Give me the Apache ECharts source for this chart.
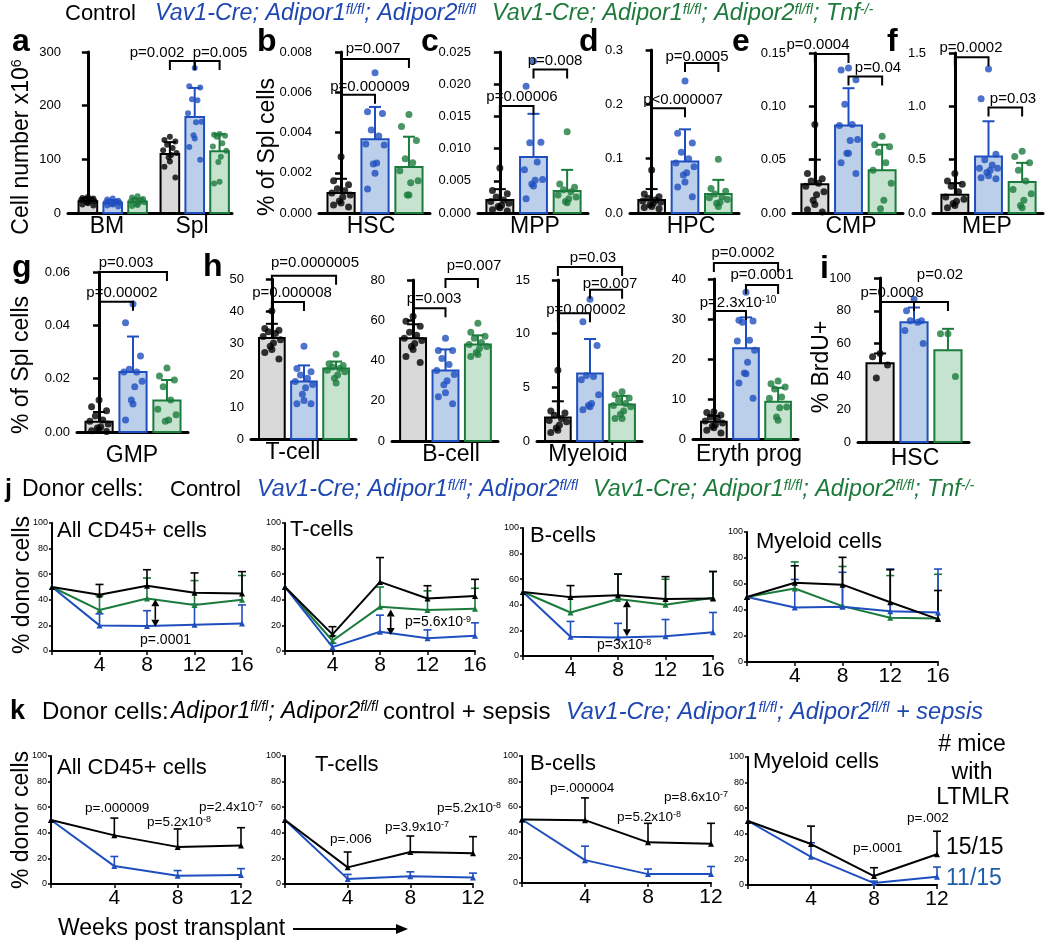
<!DOCTYPE html>
<html>
<head>
<meta charset="utf-8">
<title>Figure</title>
<script src="https://cdn.jsdelivr.net/npm/echarts@6.0.0/dist/echarts.min.js"></script>
<style>
html,body{margin:0;padding:0;background:#fff;}
#chart{width:1050px;height:949px;}
</style>
</head>
<body>
<div id="chart"></div>
<script>
// ================= DATA =================
// groups: Control / Vav1-Cre; Adipor1fl/fl; Adipor2fl/fl / ...; Tnf-/-
// a: cell number x10^6
const aCategories = ['BM', 'Spl'];
const aMean = [22, 19, 21, 110, 179, 115];
const aSD = [6, 5, 6, 22, 54, 32];
const aDots = [
  [30, 28, 27, 26, 25, 24, 22, 21, 20, 18, 16, 14],
  [27, 25, 23, 22, 21, 20, 19, 18, 17, 16, 14, 12],
  [31, 29, 26, 24, 23, 22, 20, 19, 17, 15, 13],
  [142, 136, 133, 127, 121, 117, 112, 108, 104, 96, 86, 66],
  [270, 236, 234, 212, 210, 186, 170, 169, 145, 139, 123, 99],
  [147, 146, 144, 142, 130, 124, 116, 105, 95, 58, 55]
];
// b: HSC % of Spl cells
const hscMean = [0.0010, 0.00367, 0.00229];
const hscSD = [0.0007, 0.0016, 0.0015];
const hscDots = [
  [0.0028, 0.0016, 0.0014, 0.0012, 0.0011, 0.0010, 0.0009, 0.0008, 0.0006, 0.0005, 0.0004, 0.0003],
  [0.00697, 0.00503, 0.00495, 0.00412, 0.00383, 0.00343, 0.00338, 0.00248, 0.00243, 0.00198, 0.00119],
  [0.0049, 0.0043, 0.0036, 0.0027, 0.0025, 0.0021, 0.0016, 0.0015, 0.0009, 0.0009]
];
// c: MPP
const mppMean = [0.0020, 0.0087, 0.0034];
const mppSD = [0.0017, 0.0067, 0.0033];
const mppDots = [
  [0.0070, 0.0035, 0.0030, 0.0025, 0.0020, 0.0018, 0.0015, 0.0012, 0.0010, 0.0008, 0.0005, 0.0003],
  [0.0236, 0.0197, 0.0110, 0.0109, 0.0079, 0.0067, 0.0052, 0.0051, 0.0045, 0.0042, 0.0022],
  [0.0126, 0.0045, 0.0040, 0.0036, 0.0033, 0.0028, 0.0025, 0.0022, 0.0018, 0.0016]
];
// d: HPC
const hpcMean = [0.024, 0.095, 0.035];
const hpcSD = [0.020, 0.059, 0.026];
const hpcDots = [
  [0.079, 0.035, 0.030, 0.027, 0.024, 0.022, 0.020, 0.018, 0.015, 0.012, 0.010, 0.008],
  [0.243, 0.147, 0.129, 0.112, 0.100, 0.092, 0.085, 0.074, 0.070, 0.057, 0.048, 0.030],
  [0.099, 0.045, 0.040, 0.035, 0.030, 0.028, 0.025, 0.020, 0.018, 0.012]
];
// e: CMP
const cmpMean = [0.027, 0.082, 0.040];
const cmpSD = [0.023, 0.035, 0.024];
const cmpDots = [
  [0.083, 0.037, 0.032, 0.030, 0.028, 0.025, 0.020, 0.017, 0.012, 0.008, 0.003, 0.001],
  [0.136, 0.134, 0.125, 0.102, 0.083, 0.082, 0.069, 0.068, 0.056, 0.056, 0.047, 0.037],
  [0.072, 0.064, 0.062, 0.057, 0.047, 0.040, 0.028, 0.012, 0.004]
];
// f: MEP
const mepMean = [0.17, 0.53, 0.29];
const mepSD = [0.11, 0.33, 0.18];
const mepDots = [
  [0.37, 0.30, 0.27, 0.25, 0.20, 0.15, 0.13, 0.11, 0.09, 0.07, 0.05],
  [1.35, 1.07, 0.55, 0.50, 0.45, 0.42, 0.42, 0.40, 0.38, 0.35, 0.33, 0.32],
  [0.58, 0.53, 0.47, 0.40, 0.30, 0.22, 0.18, 0.12, 0.07, 0.05]
];
// g: GMP
const gmpMean = [0.0038, 0.0225, 0.0118];
const gmpSD = [0.0037, 0.0133, 0.0077];
const gmpDots = [
  [0.0120, 0.0095, 0.0080, 0.0060, 0.0045, 0.0040, 0.0030, 0.0020, 0.0015, 0.0010, 0.0005, 0.0002],
  [0.0480, 0.0410, 0.0285, 0.0235, 0.0225, 0.0225, 0.0190, 0.0170, 0.0120, 0.0105, 0.0045],
  [0.0240, 0.0210, 0.0195, 0.0170, 0.0120, 0.0085, 0.0065, 0.0045, 0.0040]
];
// h: T-cell, B-cell, Myeloid, Eryth prog
const tMean = [31.6, 18, 22];
const tSD = [4.4, 5, 2.2];
const tDots = [
  [40, 34.5, 34, 33.5, 33, 32, 31, 30, 29, 28, 27, 25],
  [29, 22, 21, 20, 19, 18, 17, 16, 14, 12, 11, 11],
  [26.5, 23.5, 23, 22.5, 22, 21.5, 21, 20, 19, 17.5]
];
const bMean = [51, 35, 48];
const bSD = [7, 10.5, 4.5];
const bDots = [
  [62, 59.5, 57, 54, 52.5, 51, 50, 48.5, 47, 45.5, 42, 39],
  [51, 45, 45, 41, 38, 35, 33, 30, 28, 24, 22, 18.5],
  [58.5, 54, 52, 51, 49, 48, 47, 46, 44, 43, 42]
];
const myMean = [2.2, 6.3, 3.4];
const mySD = [1.5, 3.2, 0.8];
const myDots = [
  [6.6, 2.8, 2.6, 2.4, 2.1, 1.9, 1.8, 1.5, 1.2, 1.0, 0.8],
  [13.2, 11.1, 8.9, 6.1, 6.0, 5.7, 4.3, 3.5, 3.3, 3.2, 2.9],
  [4.6, 4.3, 4.0, 3.8, 3.5, 3.3, 3.2, 2.8, 2.5, 2.1, 2.1]
];
const eryMean = [4.3, 22.7, 9.3];
const erySD = [1.5, 7.7, 3.5];
const eryDots = [
  [6.8, 6.6, 6.0, 5.5, 5.0, 4.5, 4.0, 3.6, 3.2, 2.8, 2.2, 1.5],
  [36.7, 29.7, 29.5, 29.2, 24.7, 24.5, 22.2, 19.2, 16.5, 16.3, 14.0, 10.2],
  [14.5, 13.8, 13.0, 12.5, 10.5, 10.2, 8.0, 7.8, 5.5, 4.7]
];
// i: % BrdU+ HSC
const brduMean = [48, 73, 56];
const brduSD = [6, 9, 13];
const brduDots = [
  [54, 52, 47, 39],
  [87, 80, 74, 74, 73, 68, 60],
  [66, 66, 40]
];
// j: % donor cells, weeks post transplant
const jWeeks = [0, 4, 8, 12, 16];
const jAllCtrl = [50, 44, 51, 45.5, 45], jAllCtrlSD = [0, 8, 12.5, 15.5, 17];
const jAllVav = [50, 20, 19.5, 20.5, 21.5], jAllVavSD = [0, 9, 12, 16, 14.5];
const jAllTnf = [50, 32, 41, 36, 40], jAllTnfSD = [0, 11, 16, 19, 19];
const jTCtrl = [50, 13, 54, 41, 43], jTCtrlSD = [0, 6, 19, 10, 13];
const jTVav = [50, 3, 15, 10, 12], jTVavSD = [0, 3, 13, 6.5, 10];
const jTTnf = [50, 8, 34.5, 32, 33], jTTnfSD = [0, 4, 15.5, 15, 16];
const jBCtrl = [50, 46, 47.5, 44.5, 45], jBCtrlSD = [0, 9, 16.5, 17.5, 21];
const jBVav = [50, 15, 14.5, 15.5, 18.5], jBVavSD = [0, 12, 11, 13, 15.5];
const jBTnf = [50, 34, 44.5, 40, 45.5], jBTnfSD = [0, 12, 19.5, 20, 20.5];
const jMCtrl = [50, 61, 59.5, 46, 33], jMCtrlSD = [0, 13, 21, 25, 22];
const jMVav = [50, 42, 42.5, 39, 38], jMVavSD = [0, 21.5, 26.5, 32.5, 33.5];
const jMTnf = [50, 56.5, 43, 34, 33.5], jMTnfSD = [0, 20.5, 30.5, 32.5, 34];
// k: sepsis
const kWeeks = [0, 4, 8, 12];
const kAllCtrl = [50, 38, 29, 30], kAllCtrlSD = [0, 13.5, 14, 14];
const kAllVav = [50, 14, 6.5, 7], kAllVavSD = [0, 7.5, 4, 5];
const kTCtrl = [50, 13, 25, 24], kTCtrlSD = [0, 12, 12.5, 13];
const kTVav = [50, 4, 6, 5], kTVavSD = [0, 3.5, 3.5, 3.5];
const kBCtrl = [50, 49.5, 32, 31], kBCtrlSD = [0, 17.5, 15, 16];
const kBVav = [50, 18, 7, 7], kBVavSD = [0, 11, 4, 6];
const kMCtrl = [50, 32, 7, 24], kMCtrlSD = [0, 14, 6.5, 18];
const kMVav = [50, 22, 1.5, 6.5], kMVavSD = [0, 11, 1.5, 7.5];
const ltmlrCounts = ['15/15', '11/15'];

// ================= STYLE / LAYOUT =================
const FONT = '"Liberation Sans", Arial, Helvetica, sans-serif';
const BLK = '#000000', BLU = '#1f4fbf', GRN = '#1b7b3c';
const FILL = ['#d9d9d9', '#bccfea', '#c6e3cf'];
const EDGE = [BLK, BLU, GRN];
const HBLUE = '#1f47b0', HGREEN = '#1d7a3b';

const barLayout = [
  {mean: aMean, sd: aSD, dots: aDots, xs: [0, 1, 2, 3.3, 4.3, 5.3], xr: [-0.8, 5.8], grid: [68, 52, 164, 161], y: [300, 100, 0], br: [[3, 4, 283], [4, 5, 283]], bw: 0.75, ds: 6},
  {mean: hscMean, sd: hscSD, dots: hscDots, grid: [319, 52, 111, 161], y: [0.008, 0.002, 3], br: [[0, 1, 0.00587], [0, 2, 0.00765]]},
  {mean: mppMean, sd: mppSD, dots: mppDots, grid: [478, 52, 110, 161], y: [0.025, 0.005, 3], br: [[0, 1, 0.0166], [1, 2, 0.0223]]},
  {mean: hpcMean, sd: hpcSD, dots: hpcDots, grid: [630, 50, 109, 163], y: [0.3, 0.1, 1], br: [[0, 1, 0.193], [1, 2, 0.276]]},
  {mean: cmpMean, sd: cmpSD, dots: cmpDots, grid: [793, 53, 110, 160], y: [0.15, 0.05, 2], br: [[0, 1, 0.149], [1, 2, 0.128]]},
  {mean: mepMean, sd: mepSD, dots: mepDots, grid: [933, 53, 110, 160], y: [1.5, 0.5, 1], br: [[0, 1, 1.46], [1, 2, 0.99]]},
  {mean: gmpMean, sd: gmpSD, dots: gmpDots, grid: [77, 272, 111, 160], y: [0.06, 0.02, 2], br: [[0, 1, 0.0488], [0, 2, 0.06]]},
  {mean: tMean, sd: tSD, dots: tDots, grid: [251, 279, 105, 160], y: [50, 10, 0], br: [[0, 1, 42.8], [0, 2, 51]]},
  {mean: bMean, sd: bSD, dots: bDots, grid: [392, 280, 106, 161], y: [80, 20, 0], br: [[0, 1, 66], [1, 2, 80.5]]},
  {mean: myMean, sd: mySD, dots: myDots, grid: [537, 280, 105, 161], y: [15, 5, 0], br: [[0, 1, 11.9], [1, 2, 14.1], [0, 2, 16.2]]},
  {mean: eryMean, sd: erySD, dots: eryDots, grid: [693, 279, 105, 160], y: [40, 10, 0], br: [[0, 1, 32], [1, 2, 38.5], [0, 2, 44]]},
  {mean: brduMean, sd: brduSD, dots: brduDots, grid: [858, 278, 111, 164], y: [100, 20, 0], br: [[0, 1, 85.4], [1, 2, 85.4]]}
];

const lineLayout = [
  {grid: [52, 523, 190, 128], weeks: jWeeks, lines: [[jAllTnf, jAllTnfSD, GRN], [jAllVav, jAllVavSD, BLU], [jAllCtrl, jAllCtrlSD, BLK]], arrow: [8.7, 40.5, 19]},
  {grid: [285, 523, 190, 128], weeks: jWeeks, lines: [[jTTnf, jTTnfSD, GRN], [jTVav, jTVavSD, BLU], [jTCtrl, jTCtrlSD, BLK]], arrow: [8.9, 32.5, 12.5]},
  {grid: [523, 528, 190, 128], weeks: jWeeks, lines: [[jBTnf, jBTnfSD, GRN], [jBVav, jBVavSD, BLU], [jBCtrl, jBCtrlSD, BLK]], arrow: [8.75, 43.5, 15.5]},
  {grid: [747, 532, 191, 130], weeks: jWeeks, lines: [[jMTnf, jMTnfSD, GRN], [jMVav, jMVavSD, BLU], [jMCtrl, jMCtrlSD, BLK]]},
  {grid: [51, 756, 190, 128], weeks: kWeeks, lines: [[kAllVav, kAllVavSD, BLU], [kAllCtrl, kAllCtrlSD, BLK]]},
  {grid: [285, 756, 188, 128], weeks: kWeeks, lines: [[kTVav, kTVavSD, BLU], [kTCtrl, kTCtrlSD, BLK]]},
  {grid: [522, 756, 189, 127], weeks: kWeeks, lines: [[kBVav, kBVavSD, BLU], [kBCtrl, kBCtrlSD, BLK]]},
  {grid: [748, 757, 189, 128], weeks: kWeeks, lines: [[kMVav, kMVavSD, BLU], [kMCtrl, kMCtrlSD, BLK]]}
];

// ================= RENDER HELPERS =================
const OFFS = [0, -0.22, 0.22, -0.11, 0.11, -0.27, 0.27, 0.05, -0.05];
function barItem(bw) {
  return function (params, api) {
    const x = api.value(0), v = api.value(1), g = api.value(3);
    const p0 = api.coord([x, 0]), p1 = api.coord([x, v]);
    const w = api.size([bw, 0])[0];
    return {type: 'rect', shape: {x: p0[0] - w / 2, y: p1[1], width: w, height: p0[1] - p1[1]},
      style: {fill: FILL[g], stroke: EDGE[g], lineWidth: 2}};
  };
}
function barErr(params, api) {
  const x = api.value(0), v = api.value(1), s = api.value(2), g = api.value(3);
  const a = api.coord([x, v]), b = api.coord([x, v + s]);
  const c = 6;
  return {type: 'group', children: [
    {type: 'line', shape: {x1: a[0], y1: a[1], x2: b[0], y2: b[1]}, style: {stroke: EDGE[g], lineWidth: 2}},
    {type: 'line', shape: {x1: b[0] - c, y1: b[1], x2: b[0] + c, y2: b[1]}, style: {stroke: EDGE[g], lineWidth: 2}}
  ]};
}
function bracketItem(params, api) {
  const p1 = api.coord([api.value(0), api.value(2)]), p2 = api.coord([api.value(1), api.value(2)]);
  const L = 9;
  return {type: 'polyline', shape: {points: [[p1[0], p1[1] + L], [p1[0], p1[1]], [p2[0], p2[1]], [p2[0], p2[1] + L]]},
    style: {stroke: '#000', lineWidth: 2, fill: null}};
}
function lineErr(col) {
  return function (params, api) {
    const x = api.value(0), v = api.value(1), s = api.value(2);
    const a = api.coord([x, v]), b = api.coord([x, v + s]);
    const c = 4;
    return {type: 'group', children: [
      {type: 'line', shape: {x1: a[0], y1: a[1], x2: b[0], y2: b[1]}, style: {stroke: col, lineWidth: 1.6}},
      {type: 'line', shape: {x1: b[0] - c, y1: b[1], x2: b[0] + c, y2: b[1]}, style: {stroke: col, lineWidth: 1.6}}
    ]};
  };
}
function arrowItem(params, api) {
  const a = api.coord([api.value(0), api.value(1)]), b = api.coord([api.value(0), api.value(2)]);
  const h = 7, w = 4;
  return {type: 'group', children: [
    {type: 'line', shape: {x1: a[0], y1: a[1] + h, x2: b[0], y2: b[1] - h}, style: {stroke: '#000', lineWidth: 1.6}},
    {type: 'polygon', shape: {points: [[a[0], a[1]], [a[0] - w, a[1] + h], [a[0] + w, a[1] + h]]}, style: {fill: '#000'}},
    {type: 'polygon', shape: {points: [[b[0], b[1]], [b[0] - w, b[1] - h], [b[0] + w, b[1] - h]]}, style: {fill: '#000'}}
  ]};
}

const grids = [], xAxes = [], yAxes = [], series = [];

barLayout.forEach(function (p) {
  const gi = grids.length;
  const xs = p.xs || [0, 1, 2];
  const xr = p.xr || [-0.65, 2.62];
  grids.push({left: p.grid[0], top: p.grid[1], width: p.grid[2], height: p.grid[3]});
  xAxes.push({type: 'value', gridIndex: gi, min: xr[0], max: xr[1],
    axisLine: {show: true, onZero: false, lineStyle: {color: '#000', width: 3}},
    axisTick: {show: false}, axisLabel: {show: false}, splitLine: {show: false}});
  yAxes.push({type: 'value', gridIndex: gi, min: 0, max: p.y[0], interval: p.y[1],
    axisLine: {show: true, lineStyle: {color: '#000', width: 3}},
    axisTick: {show: true, length: 6, lineStyle: {width: 2.5, color: '#000'}},
    axisLabel: {color: '#000', fontSize: 13, fontFamily: FONT, margin: 7, formatter: function (v) { return v.toFixed(p.y[2]); }},
    splitLine: {show: false}});
  const bars = p.mean.map(function (m, k) { return [xs[k], m, p.sd[k], k % 3]; });
  series.push({type: 'custom', xAxisIndex: gi, yAxisIndex: gi, data: bars, renderItem: barItem(p.bw || 0.8), z: 2, silent: true});
  series.push({type: 'custom', xAxisIndex: gi, yAxisIndex: gi, data: bars, renderItem: barErr, z: 3, silent: true});
  const dd = [];
  p.dots.forEach(function (arr, k) {
    arr.forEach(function (v, i) {
      dd.push({value: [xs[k] + OFFS[i % OFFS.length], v], itemStyle: {color: EDGE[k % 3]}});
    });
  });
  series.push({type: 'scatter', xAxisIndex: gi, yAxisIndex: gi, data: dd, symbolSize: p.ds || 7, z: 4, silent: true});
  const brs = p.br.map(function (b) { return [xs[b[0]], xs[b[1]], b[2]]; });
  series.push({type: 'custom', xAxisIndex: gi, yAxisIndex: gi, data: brs, renderItem: bracketItem, z: 5, silent: true, clip: false});
});

lineLayout.forEach(function (p) {
  const gi = grids.length;
  const xmax = p.weeks[p.weeks.length - 1];
  grids.push({left: p.grid[0], top: p.grid[1], width: p.grid[2], height: p.grid[3]});
  xAxes.push({type: 'value', gridIndex: gi, min: 0, max: xmax, interval: 4,
    axisLine: {show: true, onZero: false, lineStyle: {color: '#000', width: 2}},
    axisTick: {show: true, length: 4, lineStyle: {width: 1.5, color: '#000'}},
    axisLabel: {fontSize: 21, color: '#000', fontFamily: FONT, margin: 4, formatter: function (v) { return v === 0 ? '' : String(v); }},
    splitLine: {show: false}});
  yAxes.push({type: 'value', gridIndex: gi, min: 0, max: 100, interval: 20,
    axisLine: {show: true, lineStyle: {color: '#000', width: 2}},
    axisTick: {show: true, length: 3, lineStyle: {width: 1.5, color: '#000'}},
    axisLabel: {fontSize: 9, color: '#000', fontFamily: FONT, margin: 4},
    splitLine: {show: false}});
  p.lines.forEach(function (L) {
    const vals = L[0], sd = L[1], col = L[2];
    series.push({type: 'custom', xAxisIndex: gi, yAxisIndex: gi,
      data: p.weeks.map(function (w, k) { return [w, vals[k], sd[k]]; }).filter(function (d) { return d[2] > 0; }),
      renderItem: lineErr(col), z: 2, silent: true, clip: false});
    series.push({type: 'line', xAxisIndex: gi, yAxisIndex: gi,
      data: p.weeks.map(function (w, k) { return [w, vals[k]]; }),
      symbol: 'triangle', symbolSize: 6, showSymbol: true, clip: false,
      lineStyle: {color: col, width: 2}, itemStyle: {color: col}, z: 3, silent: true});
  });
  if (p.arrow) {
    series.push({type: 'custom', xAxisIndex: gi, yAxisIndex: gi, data: [p.arrow], renderItem: arrowItem, z: 6, silent: true, clip: false});
  }
});

// ================= TEXT =================
function RT(x, y, parts, o) {
  o = o || {};
  const size = o.size || 14, sup = o.sup || Math.round(size * 0.62);
  const base = {fontSize: size, fontFamily: FONT, fontStyle: o.italic ? 'italic' : 'normal', fontWeight: o.bold ? 'bold' : 'normal', fill: o.color || '#000'};
  const rich = {n: Object.assign({}, base), s: Object.assign({}, base, {fontSize: sup, verticalAlign: 'top'})};
  if (typeof parts === 'string') parts = [parts];
  const text = parts.map(function (p) { return p.charAt(0) === '^' ? '{s|' + p.slice(1) + '}' : '{n|' + p + '}'; }).join('');
  return {type: 'text', x: x, y: y, rotation: o.rot || 0, silent: true, z: 100,
    style: {text: text, rich: rich, align: o.align || 'left', verticalAlign: 'middle', fill: o.color || '#000', fontSize: size, fontFamily: FONT}};
}
const R90 = Math.PI / 2;
const texts = [];
const SUPFL = ['Vav1-Cre; Adipor1', '^fl/fl', '; Adipor2', '^fl/fl'];
// headers
texts.push(RT(65, 14, 'Control', {size: 22}));
texts.push(RT(155, 14, SUPFL, {size: 23.3, italic: true, color: HBLUE, sup: 14.5}));
texts.push(RT(492, 14, SUPFL.concat(['; Tnf', '^-/-']), {size: 23.3, italic: true, color: HGREEN, sup: 14.5}));
texts.push(RT(5, 490, 'j', {size: 25, bold: true}));
texts.push(RT(22, 490, 'Donor cells:', {size: 23}));
texts.push(RT(170, 490, 'Control', {size: 22}));
texts.push(RT(257, 490, SUPFL, {size: 23.3, italic: true, color: HBLUE, sup: 14.5}));
texts.push(RT(593, 490, SUPFL.concat(['; Tnf', '^-/-']), {size: 23.3, italic: true, color: HGREEN, sup: 14.5}));
texts.push(RT(10, 712, 'k', {size: 27, bold: true}));
texts.push(RT(42, 712, 'Donor cells:', {size: 24}));
texts.push(RT(171, 712, ['Adipor1', '^fl/fl', '; Adipor2', '^fl/fl'], {size: 23, italic: true, sup: 14}));
texts.push(RT(383, 712, 'control + sepsis', {size: 24}));
texts.push(RT(566, 712, SUPFL.concat([' + sepsis']), {size: 23.5, italic: true, color: HBLUE, sup: 14.5}));
// panel letters
[['a', 12, 42], ['b', 257, 42], ['c', 421, 42], ['d', 579, 42], ['e', 732, 42], ['f', 887, 42],
 ['g', 12, 268], ['h', 203, 267], ['i', 820, 269]].forEach(function (l) { texts.push(RT(l[1], l[2], l[0], {size: 32, bold: true})); });
// axis names
texts.push(RT(22, 147, ['Cell number x10', '^6'], {size: 23, align: 'center', rot: R90, sup: 14}));
texts.push(RT(268, 147, '% of Spl cells', {size: 23, align: 'center', rot: R90}));
texts.push(RT(22, 365, '% of Spl cells', {size: 23, align: 'center', rot: R90}));
texts.push(RT(822, 367, '% BrdU+', {size: 23, align: 'center', rot: R90}));
texts.push(RT(23, 585, '% donor cells', {size: 23, align: 'center', rot: R90}));
texts.push(RT(22, 820, '% donor cells', {size: 23, align: 'center', rot: R90}));
// category names
[[aCategories[0], 107, 227], [aCategories[1], 192, 227], ['HSC', 371, 227], ['MPP', 535, 227], ['HPC', 691, 227], ['CMP', 851, 227], ['MEP', 987, 227],
 ['GMP', 132, 456], ['T-cell', 293, 453], ['B-cell', 451, 455], ['Myeloid', 588, 455], ['Eryth prog', 749, 455], ['HSC', 915, 459]]
 .forEach(function (c) { texts.push(RT(c[1], c[2], c[0], {size: 23, align: 'center'})); });
// p-values (bar panels)
[[['p=0.002'], 157, 53], [['p=0.005'], 220, 53],
 [['p=0.007'], 373, 49], [['p=0.000009'], 370, 87],
 [['p=0.00006'], 522, 97], [['p=0.008'], 555, 61],
 [['p<0.000007'], 683, 100], [['p=0.0005'], 697, 57],
 [['p=0.0004'], 818, 45], [['p=0.04'], 878, 68],
 [['p=0.0002'], 971, 48], [['p=0.03'], 1013, 99],
 [['p=0.003'], 126, 263], [['p=0.00002'], 122, 293],
 [['p=0.0000005'], 315, 263], [['p=0.000008'], 292, 293],
 [['p=0.003'], 434, 299], [['p=0.007'], 474, 266],
 [['p=0.000002'], 586, 310], [['p=0.007'], 610, 284], [['p=0.03'], 593, 258],
 [['p=2.3x10', '^-10'], 738, 303], [['p=0.0001'], 762, 275], [['p=0.0002'], 743, 253],
 [['p=0.0008'], 892, 293], [['p=0.02'], 940, 275]]
 .forEach(function (t) { texts.push(RT(t[1], t[2], t[0], {size: 15, align: 'center', sup: 10})); });
// line panel titles
[['All CD45+ cells', 57, 531], ['T-cells', 290, 530], ['B-cells', 530, 536], ['Myeloid cells', 756, 542],
 ['All CD45+ cells', 57, 768], ['T-cells', 315, 765], ['B-cells', 530, 764], ['Myeloid cells', 753, 762]]
 .forEach(function (t) { texts.push(RT(t[1], t[2], t[0], {size: 22})); });
// p-values (line panels)
[[['p=.0001'], 140, 640, 14], [['p=5.6x10', '^-9'], 405, 622, 14], [['p=3x10', '^-8'], 597, 645, 14],
 [['p=.000009'], 85, 808, 13.5], [['p=5.2x10', '^-8'], 147, 822, 13.5], [['p=2.4x10', '^-7'], 199, 807, 13.5],
 [['p=.006'], 330, 839, 13.5], [['p=3.9x10', '^-7'], 385, 827, 13.5], [['p=5.2x10', '^-8'], 437, 808, 13.5],
 [['p=.000004'], 550, 788, 13.5], [['p=5.2x10', '^-8'], 617, 817, 13.5], [['p=8.6x10', '^-7'], 664, 797, 13.5],
 [['p=.0001'], 853, 848, 13.5], [['p=.002'], 907, 818, 13.5]]
 .forEach(function (t) { texts.push(RT(t[1], t[2], t[0], {size: t[3], sup: 9})); });
// LTMLR
texts.push(RT(972, 745, '# mice', {size: 23, align: 'center'}));
texts.push(RT(972, 773, 'with', {size: 23, align: 'center'}));
texts.push(RT(973, 798, 'LTMLR', {size: 23, align: 'center'}));
texts.push(RT(946, 848, ltmlrCounts[0], {size: 23}));
texts.push(RT(946, 879, ltmlrCounts[1], {size: 23, color: '#1d5ea8'}));
// weeks post transplant + arrow
texts.push(RT(58, 929, 'Weeks post transplant', {size: 23}));
texts.push({type: 'line', silent: true, z: 100, shape: {x1: 293, y1: 929, x2: 398, y2: 929}, style: {stroke: '#000', lineWidth: 2}});
texts.push({type: 'polygon', silent: true, z: 100, shape: {points: [[408, 929], [396, 924], [396, 934]]}, style: {fill: '#000'}});

const chart = echarts.init(document.getElementById('chart'), null, {renderer: 'canvas'});
chart.setOption({
  animation: false,
  backgroundColor: '#fff',
  textStyle: {fontFamily: FONT},
  grid: grids, xAxis: xAxes, yAxis: yAxes, series: series,
  graphic: {elements: texts}
});
</script>
</body>
</html>
